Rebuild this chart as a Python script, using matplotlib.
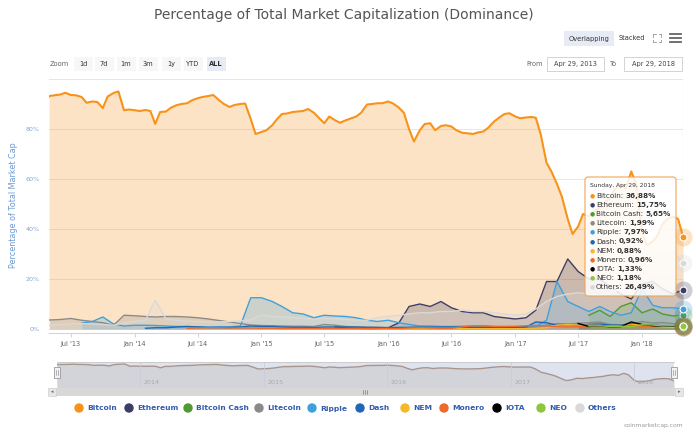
import matplotlib
matplotlib.use("Agg")
import matplotlib.pyplot as plt
import matplotlib.dates as mdates
from matplotlib.patches import Rectangle, FancyBboxPatch, Circle
from matplotlib.lines import Line2D
from matplotlib.transforms import Affine2D
import pandas as pd

plt.rcParams['font.family'] = ['Liberation Sans Narrow', 'DejaVu Sans']

W, H = 696, 440

# Bitcoin dominance, 1st and 15th of each month (Apr 29 2013 .. Apr 29 2018)
bitcoin = [93.0,
           93.2, 93.5, 93.8, 94.5, 93.6, 93.5, 92.8, 90.5, 91.0, 90.8, 88.4, 93.0, 94.4, 95.0, 87.5, 87.8,
           87.5, 87.2, 87.6, 87.2, 82.0, 86.8, 87.0, 88.5, 89.5, 90.0, 90.3, 91.5,
           92.3, 92.8, 93.2, 93.6, 91.5, 90.0, 88.8, 89.6, 90.0, 90.2, 84.0, 78.0,
           78.8, 79.5, 81.5, 84.0, 86.0, 86.2, 86.8, 87.0, 87.2, 88.0, 86.5, 84.5,
           82.3, 85.0, 83.5, 82.5, 83.5, 84.2, 85.0, 86.5, 89.8, 90.0, 90.3, 90.3,
           91.0, 90.2, 88.5, 86.5, 80.0, 75.0, 79.5, 82.0, 82.3, 79.5, 81.2, 81.5,
           81.0, 79.5, 78.5, 78.3, 78.0, 78.6, 79.0, 80.5, 83.0, 84.5, 86.0, 86.3,
           85.0, 84.3, 84.6, 84.8, 84.5, 78.0, 66.5, 63.0, 58.0, 53.0, 44.0, 38.0,
           41.0, 46.0, 45.0, 47.0, 48.5, 50.5, 52.5, 56.0, 58.0, 56.0, 63.0, 58.0,
           39.0, 33.5, 35.0, 37.5, 42.0, 44.0, 45.0, 44.0,
           36.88]

# monthly series: value on the 1st of each month from *_start, last one on Apr 29 2018
ethereum_start = "2015-08-01"
ethereum = [0.8, 0.5, 0.3, 0.2, 0.2,
            0.5, 2.5, 9.0, 10.0, 9.0, 11.0, 8.5, 7.0, 6.5, 6.5, 5.0, 4.5,
            4.0, 4.5, 7.5, 19.0, 19.0, 28.0, 23.0, 20.0, 20.0, 17.0, 14.0, 12.0,
            18.0, 19.0, 16.0, 14.0, 15.75]

bitcoin_cash_start = "2017-08-01"
bitcoin_cash = [5.5, 7.5, 5.0, 9.0, 10.5, 6.5, 8.0, 6.0, 5.2, 5.65]

litecoin_start = "2013-05-01"
litecoin = [3.6, 3.8, 4.2, 3.5, 3.0, 2.5, 1.5, 5.5,
            5.3, 5.0, 4.8, 5.0, 5.0, 4.8, 4.5, 4.0, 3.4, 2.8, 2.2, 1.6,
            1.4, 1.3, 1.2, 1.1, 1.1, 1.0, 1.8, 1.5, 1.0, 0.8, 0.8, 0.7,
            0.6, 0.6, 0.7, 0.9, 0.9, 0.8, 0.7, 0.6, 0.6, 0.7, 0.7, 0.6,
            0.6, 0.6, 0.7, 1.5, 2.2, 2.0, 2.3, 2.5, 2.8, 1.8, 1.7, 1.9,
            3.0, 2.4, 2.6, 2.1, 1.99]

ripple_start = "2013-08-01"
ripple = [2.4, 3.0, 4.8, 2.0, 1.2,
          1.5, 1.5, 1.4, 1.2, 1.0, 1.0, 0.9, 0.8, 0.9, 0.9, 1.2, 12.5,
          12.5, 11.0, 9.0, 6.5, 6.0, 4.5, 5.5, 5.2, 5.0, 4.5, 3.5, 3.0,
          3.5, 2.5, 1.8, 1.2, 1.2, 1.0, 1.0, 1.1, 1.2, 1.3, 1.0, 1.0,
          0.9, 0.8, 1.0, 3.5, 19.0, 11.0, 9.0, 7.0, 9.0, 7.0, 5.5, 6.5,
          16.0, 9.5, 8.5, 8.5, 7.97]

dash_start = "2014-02-01"
dash = [0.3, 0.5, 0.5, 0.8, 1.0, 0.8, 0.6, 0.6, 0.6, 0.8, 1.2,
        1.0, 1.0, 0.8, 0.7, 0.7, 0.6, 0.8, 0.8, 0.8, 0.8, 0.6, 0.6,
        0.5, 0.6, 0.6, 0.7, 0.7, 0.8, 0.8, 0.7, 0.7, 0.6, 0.6, 0.6,
        0.7, 0.8, 2.8, 2.5, 1.5, 1.8, 1.5, 1.8, 2.0, 1.6, 1.5, 2.2,
        1.8, 1.6, 1.3, 1.1, 0.92]

nem_start = "2015-04-01"
nem = [0.1, 0.1, 0.1, 0.1, 0.1, 0.1, 0.1, 0.1, 0.1,
       0.1, 0.1, 0.1, 0.2, 0.2, 0.2, 0.2, 0.1, 0.1, 0.1, 0.1, 0.1,
       0.1, 0.1, 0.3, 0.5, 1.5, 1.8, 1.6, 1.5, 1.4, 1.1, 1.3, 1.8,
       2.0, 1.1, 0.9, 0.7, 0.88]

monero_start = "2014-06-01"
monero = [0.3, 0.4, 0.5, 0.5, 0.4, 0.4, 0.4,
          0.3, 0.3, 0.2, 0.2, 0.2, 0.2, 0.2, 0.2, 0.2, 0.2, 0.2, 0.2,
          0.2, 0.2, 0.4, 0.5, 0.4, 0.3, 0.3, 0.8, 1.3, 1.2, 1.0, 1.0,
          1.1, 1.3, 1.4, 1.2, 1.0, 0.8, 0.9, 1.2, 1.0, 1.0, 1.3, 1.5,
          1.0, 1.2, 1.1, 1.2, 0.96]

iota_start = "2017-07-01"
iota = [2.2, 1.0, 1.3, 0.9, 1.0, 2.8, 1.8, 1.3, 1.1, 1.1, 1.33]

neo_start = "2017-08-01"
neo = [1.2, 1.3, 1.0, 1.1, 0.9, 1.7, 1.6, 1.2, 1.3, 1.18]

others_start = "2013-05-01"
others = [1.5, 1.8, 2.0, 2.2, 2.0, 1.8, 1.5, 2.5,
          3.0, 3.5, 11.5, 4.0, 3.5, 3.2, 3.0, 2.8, 2.8, 3.0, 3.3, 3.6,
          5.5, 5.0, 4.8, 4.5, 4.2, 4.0, 4.2, 4.0, 3.8, 3.5, 3.5, 4.5,
          5.0, 5.5, 6.0, 6.5, 6.5, 7.0, 7.0, 7.5, 7.0, 7.0, 6.5, 6.0,
          5.5, 6.0, 8.0, 11.0, 13.0, 14.0, 14.5, 14.0, 13.5, 14.5, 16.0, 18.0,
          26.0, 28.0, 30.0, 31.0, 26.49]

names = ["Bitcoin", "Ethereum", "Bitcoin Cash", "Litecoin", "Ripple", "Dash",
         "NEM", "Monero", "IOTA", "NEO", "Others"]
colors = ["#f7931a", "#3d3d66", "#4e9a35", "#8a8a8a", "#3ea0dc", "#1e68b4",
          "#f4b829", "#ef6a2b", "#000000", "#8dc63f", "#d9d9d9"]

END = pd.Timestamp("2018-04-29")


def month_dates(start):
    return list(pd.date_range(start, "2018-04-01", freq="MS")) + [END]


btc_dates = [pd.Timestamp("2013-04-29")] + list(pd.date_range("2013-05-01", "2018-04-15", freq="SMS")) + [END]

series = [(bitcoin, btc_dates),
          (ethereum, month_dates(ethereum_start)),
          (bitcoin_cash, month_dates(bitcoin_cash_start)),
          (litecoin, month_dates(litecoin_start)),
          (ripple, month_dates(ripple_start)),
          (dash, month_dates(dash_start)),
          (nem, month_dates(nem_start)),
          (monero, month_dates(monero_start)),
          (iota, month_dates(iota_start)),
          (neo, month_dates(neo_start)),
          (others, month_dates(others_start))]

fig = plt.figure(figsize=(W / 100, H / 100), dpi=100)
pix = Affine2D().scale(1 / W, -1 / H).translate(0, 1) + fig.transFigure


def box(x0, y0, x1, y1):
    return [x0 / W, 1 - y1 / H, (x1 - x0) / W, (y1 - y0) / H]


def ptext(x, y, s, **kw):
    kw.setdefault("fontsize", 4.8)
    kw.setdefault("color", "#333333")
    kw.setdefault("va", "center")
    return fig.text(x, y, s, transform=pix, **kw)


def prect(x, y, w, h, **kw):
    r = Rectangle((x, y), w, h, transform=pix, **kw)
    fig.add_artist(r)
    return r


def pline(xs, ys, **kw):
    fig.add_artist(Line2D(xs, ys, transform=pix, **kw))


x0 = mdates.date2num(pd.Timestamp("2013-04-29"))
x1 = mdates.date2num(END)

# ---- main plot ----
ax = fig.add_axes(box(49, 79, 683, 333))
for (vals, dates), c, n in zip(series, colors, names):
    xs = mdates.date2num(dates)
    ax.fill_between(xs, vals, 0, color=c, alpha=0.25, lw=0)
    ax.plot(xs, vals, color=c, lw=1.5 if n == "Bitcoin" else 1.0)

ax.set_xlim(x0, x1)
ax.set_ylim(-1.6, 100)
ax.set_yticks([0, 20, 40, 60, 80, 100])
ax.set_yticklabels(["0%", "20%", "40%", "60%", "80%", ""])
ax.grid(axis="y", color="#e6e6e6", lw=0.7)
ax.set_axisbelow(True)
ticks = pd.date_range("2013-07-01", "2018-01-01", freq="6MS")
ax.set_xticks(mdates.date2num(ticks))
ax.set_xticklabels([t.strftime("%b '%y") for t in ticks])
ax.tick_params(axis="x", length=3, color="#ccd6eb", labelsize=4.8, labelcolor="#666666", pad=3)
ax.tick_params(axis="y", length=0, labelsize=4.6, labelcolor="#86a6cf", pad=6.5)
for s in ["top", "right", "left"]:
    ax.spines[s].set_visible(False)
ax.spines["bottom"].set_color("#ccd6eb")
ax.axvline(x1, color="#cccccc", lw=0.8)

# hover markers at the last point
for (vals, dates), c in zip(series, colors):
    xe = mdates.date2num(dates[-1])
    ax.plot(xe, vals[-1], "o", ms=13, color=c, alpha=0.25, mec="none", clip_on=False, zorder=4)
    ax.plot(xe, vals[-1], "o", ms=5, color=c, mec="white", mew=0.8, clip_on=False, zorder=4)

fig.text(13 / W, 1 - 205 / H, "Percentage of Total Market Cap", rotation=90,
         ha="center", va="center", fontsize=5.8, color="#6b9bd2")

# ---- tooltip ----
tip = FancyBboxPatch((585, 177), 91, 119, boxstyle="round,pad=0,rounding_size=3",
                     transform=pix, fc=(1, 1, 1, 0.85), ec="#f2a455", lw=0.8, zorder=5)
fig.add_artist(tip)
ptext(590, 186, "Sunday, Apr 29, 2018", fontsize=4.3, zorder=6)
renderer = fig.canvas.get_renderer()
for i, ((vals, dates), c, n) in enumerate(zip(series, colors, names)):
    yy = 196 + i * 9.1
    ptext(590, yy, "\u25cf", fontsize=4.2, color=c, ha="left", zorder=6)
    t = ptext(596, yy, n + ":", fontsize=5.2, ha="left", zorder=6)
    wpx = t.get_window_extent(renderer=renderer).width
    ptext(596 + wpx + 2, yy, ("%.2f%%" % vals[-1]).replace(".", ","),
          fontsize=5.2, fontweight="bold", ha="left", zorder=6)

# ---- navigator ----
nav = fig.add_axes(box(57, 362, 674, 387))
nav.set_facecolor("#dee3ef")
xb = mdates.date2num(btc_dates)
nav.fill_between(xb, bitcoin, 0, color="#d3d4da", lw=0)
nav.plot(xb, bitcoin, color="#a8968d", lw=1)
nav.set_xlim(x0, x1)
nav.set_ylim(16, 102)
nav.set_xticks([])
nav.set_yticks([])
for s in nav.spines.values():
    s.set_visible(False)
for yr in range(2014, 2019):
    xd = mdates.date2num(pd.Timestamp("%d-01-01" % yr))
    nav.axvline(xd, color="#c9ced9", lw=0.6)
    nav.text(xd + 10, 30, str(yr), fontsize=4.6, color="#aaaaaa", va="center")
pline([57, 674], [362, 362], color="#cccccc", lw=0.7)
for hx in [57, 674]:
    prect(hx - 3, 367, 6, 11, fc="#f2f2f2", ec="#999999", lw=0.6, zorder=3)
    pline([hx - 1, hx - 1], [370, 375], color="#999999", lw=0.5, zorder=4)
    pline([hx + 1, hx + 1], [370, 375], color="#999999", lw=0.5, zorder=4)

# scrollbar
prect(48, 388, 635, 8, fc="#f2f2f2", ec="none")
prect(56, 388, 619, 8, fc="#d8d8d8", ec="none")
prect(48, 388, 8, 8, fc="#e6e6e6", ec="#cccccc", lw=0.4)
prect(675, 388, 8, 8, fc="#e6e6e6", ec="#cccccc", lw=0.4)
ptext(52, 392, "\u25c2", fontsize=3.5, color="#666666", ha="center")
ptext(679, 392, "\u25b8", fontsize=3.5, color="#666666", ha="center")
for gx in [363, 365, 367]:
    pline([gx, gx], [390, 394], color="#666666", lw=0.4)

# ---- legend ----
legend_x = [79, 129, 188, 259, 312, 360, 405, 444, 497, 541, 580]
for lx, c, n in zip(legend_x, colors, names):
    fig.add_artist(Circle((lx, 408), 4, transform=pix, color=c))
    ptext(lx + 8, 408.5, n, fontsize=5.4, color="#335cad", fontweight="bold", ha="left")

ptext(683, 425, "coinmarketcap.com", fontsize=4.3, color="#999999", ha="right")

# ---- title and controls ----
ptext(344, 15, "Percentage of Total Market Capitalization (Dominance)",
      fontsize=10, color="#555555", ha="center")

prect(564, 31, 50, 15, fc="#e6ebf5", ec="none")
ptext(589, 38.5, "Overlapping", ha="center")
ptext(632, 38.5, "Stacked", ha="center")
for sx, sy in [(-1, -1), (1, -1), (-1, 1), (1, 1)]:
    cx, cy = 657 + sx * 4, 38.5 + sy * 4
    pline([cx, cx - sx * 2.5], [cy, cy], color="#999999", lw=0.6)
    pline([cx, cx], [cy, cy - sy * 2.5], color="#999999", lw=0.6)
for hy in [34.5, 38.5, 42.5]:
    pline([670, 681], [hy, hy], color="#666666", lw=1.3)

ptext(50, 64, "Zoom", color="#666666", ha="left")
buttons = ["1d", "7d", "1m", "3m", "1y", "YTD", "ALL"]
button_x = [83, 104, 126, 148, 171, 193, 216]
for bx, b in zip(button_x, buttons):
    sel = b == "ALL"
    prect(bx - 9.5, 57, 19, 14, fc="#e6ebf5" if sel else "#f7f7f7", ec="none")
    ptext(bx, 64, b, ha="center", fontweight="bold" if sel else "normal")

ptext(543, 64, "From", color="#666666", ha="right")
prect(547, 57, 57, 14, fc="white", ec="#cccccc", lw=0.6)
ptext(575.5, 64, "Apr 29, 2013", ha="center", color="#444444")
ptext(614, 64, "To", color="#666666", ha="center")
prect(624, 57, 58, 14, fc="white", ec="#cccccc", lw=0.6)
ptext(653, 64, "Apr 29, 2018", ha="center", color="#444444")

fig.savefig("out.png", dpi=100)
